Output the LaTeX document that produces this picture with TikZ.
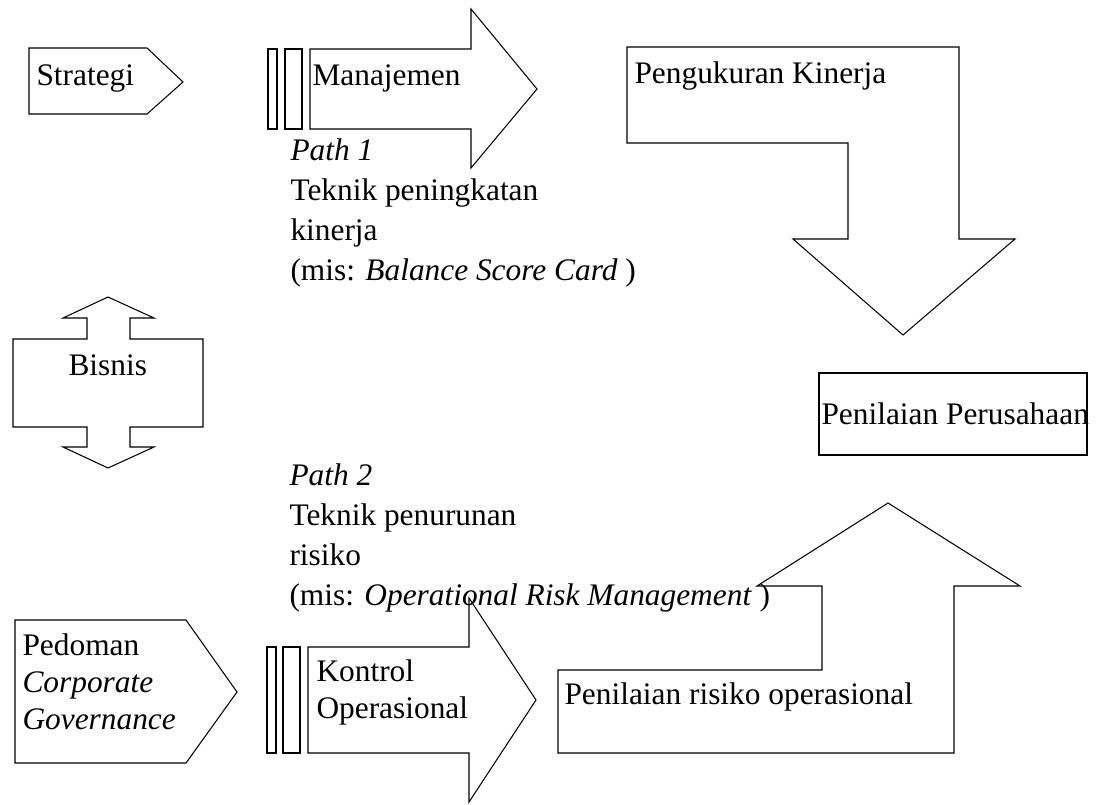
\documentclass[tikz,border=0pt]{standalone}
\usepackage{fontspec}
\setmainfont{Liberation Serif}
\usepackage{tikz}

\begin{document}
\begin{tikzpicture}[
      x=0.3826pt, y=-0.3826pt,
      blok/.style={draw, line width=0.4pt, line join=miter},
      tebal/.style={draw, line width=0.9pt},
      teks/.style={inner sep=0pt, anchor=base west, align=left,
                   font=\fontsize{12}{14}\selectfont},
      jalur/.style={teks, font=\fontsize{12}{15.3}\selectfont}
    ]
    \useasboundingbox (0,0) rectangle (1098,804);
    % top row (multi-line texts sit on the baseline of their last line)
    \draw[blok] (29,48) -- (147,48) -- (183,82) -- (147,114) -- (29,114) -- cycle;
    \node[teks] (strat) at (36,85) {Strategi};
    \draw[blok] (268,49) rectangle (277,129);
    \draw[blok] (285,49) rectangle (302,129);
    \draw[blok] (310,49) -- (471,49) -- (471,9) -- (537,89) -- (471,168)
                -- (471,129) -- (310,129) -- cycle;
    \node[teks] (manaj) at (312,85) {Manajemen};
    \node[jalur] (path1) at (290,280) {\textit{Path 1}\\Teknik peningkatan\\kinerja\\(mis: \textit{Balance Score Card} )};
    \draw[blok] (627,47) -- (959,47) -- (959,239) -- (1015,239) -- (903,335)
                -- (793,239) -- (848,239) -- (848,143) -- (627,143) -- cycle;
    \node[teks] (ukur) at (634,83) {Pengukuran Kinerja};
    % middle
    \draw[blok] (13,339) -- (87,339) -- (87,318) -- (63,318) -- (108,297) -- (154,318)
                -- (130,318) -- (130,339) -- (203,339) -- (203,427) -- (130,427)
                -- (130,447) -- (154,447) -- (108,468) -- (63,447) -- (87,447)
                -- (87,427) -- (13,427) -- cycle;
    \node[teks] (bisnis) at (68,375) {Bisnis};
    \draw[tebal] (819,373) rectangle (1087,455);
    \node[teks] (nilai) at (821,424) {Penilaian Perusahaan};
    \node[jalur] (path2) at (289,605) {\textit{Path 2}\\Teknik penurunan\\risiko\\(mis: \textit{Operational Risk Management} )};
    % bottom row
    \draw[blok] (15,620) -- (186,620) -- (237,692) -- (186,763) -- (15,763) -- cycle;
    \node[teks] (pedoman) at (22,729) {Pedoman\\\textit{Corporate}\\\textit{Governance}};
    \draw[blok] (267,647) rectangle (276,753);
    \draw[blok] (283,647) rectangle (300,753);
    \draw[blok] (308,647) -- (469,647) -- (469,598) -- (536,700) -- (469,802)
                -- (469,753) -- (308,753) -- cycle;
    \node[teks] (kontrol) at (316,718) {Kontrol\\Operasional};
    \draw[blok] (558,753) -- (558,670) -- (822,670) -- (822,586) -- (757,586)
                -- (888,503) -- (1020,586) -- (954,586) -- (954,753) -- cycle;
    \node[teks] (risiko) at (564,704) {Penilaian risiko operasional};
  \end{tikzpicture}
\end{document}
